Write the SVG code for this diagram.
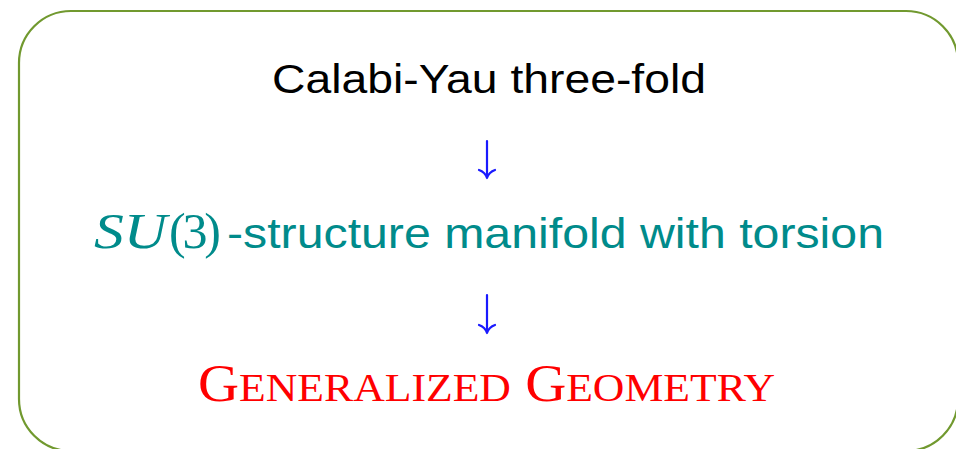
<svg xmlns="http://www.w3.org/2000/svg" width="956" height="449" viewBox="0 0 956 449">
<style>
.frame{fill:none;stroke:#71992f;stroke-width:2.2}
.sans{font-family:"Liberation Sans","DejaVu Sans",sans-serif}
.serif{font-family:"Liberation Serif","DejaVu Serif",serif}
.arrow{stroke:#1a1aff;stroke-width:2.2;fill:none;stroke-linecap:round;stroke-linejoin:round}
</style>
<rect width="956" height="449" fill="#ffffff"/>
<g id="frame"><rect class="frame" x="19" y="11" width="939" height="440" rx="52" ry="52"/></g>
<g id="node-calabi-yau">
<text class="sans" x="272" y="93" font-size="40" fill="#000000" textLength="434" lengthAdjust="spacingAndGlyphs">Calabi-Yau three-fold</text>
</g>
<g id="node-su3" fill="#008b8b">
<text class="serif" x="94" y="248" font-size="50" font-style="italic" textLength="73" lengthAdjust="spacingAndGlyphs">SU</text>
<text class="serif" x="169" y="248" font-size="50" textLength="52" lengthAdjust="spacing">(3)</text>
<text class="sans" x="227" y="248" font-size="42" textLength="657" lengthAdjust="spacingAndGlyphs">-structure manifold with torsion</text>
</g>
<g id="node-generalized">
<text class="serif" x="198" y="401" fill="#ff0000" font-size="52" textLength="577" lengthAdjust="spacingAndGlyphs">G<tspan font-size="40">ENERALIZED</tspan> G<tspan font-size="40">EOMETRY</tspan></text>
</g>
<g id="connectors">
<path class="arrow" d="M487 141 V178 M479 170 Q485 172 487 178 Q489 172 495 170"/>
<path class="arrow" d="M487 295 V333 M479 325 Q485 327 487 333 Q489 327 495 325"/>
</g>
</svg>
